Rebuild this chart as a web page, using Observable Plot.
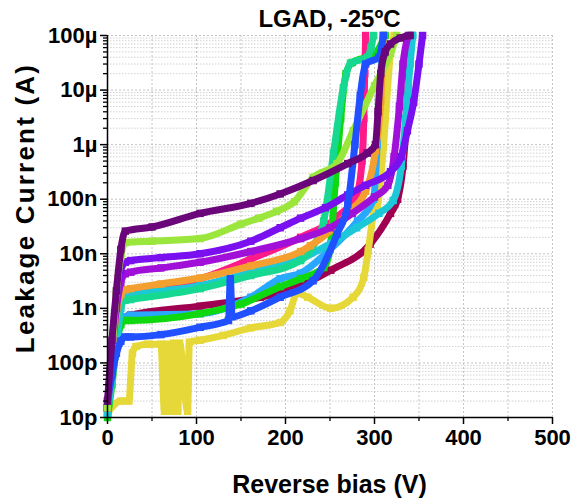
<!DOCTYPE html>
<html><head><meta charset="utf-8">
<script src="https://cdn.jsdelivr.net/npm/d3@7"></script>
<script src="https://cdn.jsdelivr.net/npm/@observablehq/plot@0.6"></script>
<style>
body{margin:0;background:#fff;font-family:"Liberation Sans",Arial,sans-serif;}
#wrap{position:relative;width:574px;height:502px;overflow:hidden;}
.t{position:absolute;font-weight:bold;font-size:24px;line-height:24px;white-space:nowrap;color:#000;}
</style></head><body><div id="wrap"></div>
<script>
// ---- data (Reverse bias V, leakage current A) ----
const seriesNames = ["crimson","yellow","pink","lightBlue","green","cyan","teal","orange","purple","violet","lime","blue","darkPurple"];
const seriesColors = ["#a00050","#e6d838","#ff1a8a","#28a8ff","#10d810","#1cc8d8","#16d890","#f4a030","#a010d8","#7a10f0","#9be63c","#2050ff","#6a067a"];

const V_crimson = [0,5,10,15,20,26,104,172,202,251,295,318,326,332,336,339,342];
const I_crimson = [1.5e-11,8e-11,3e-10,6e-10,7e-10,7.5e-10,1.1e-9,1.6e-9,2.1e-9,5e-9,1.5e-8,5.5e-8,1e-7,4e-7,3e-6,3e-5,1e-4];

const V_yellow = [0,15,24,28,32,45,60,64,66,72,74,79,81,90,92,104,130,161,194,205,213,225,251,276,288,293,299,303,310,318,322];
const I_yellow = [1.2e-11,2e-11,2e-11,1.5e-10,2e-10,2.2e-10,2.2e-10,1.3e-11,2.2e-10,1.3e-11,2.3e-10,1.3e-11,2.3e-10,1.3e-11,2.4e-10,2.6e-10,3.2e-10,4.4e-10,5.5e-10,9e-10,1.9e-9,1.6e-9,1e-9,1.6e-9,3.7e-9,1.15e-8,5.4e-8,7e-8,9e-7,4.7e-5,1e-4];

const V_pink = [0,5,10,15,20,26,104,161,217,260,280,286,288,289,290];
const I_pink = [1.5e-11,2e-10,1e-9,1.8e-9,2e-9,2.1e-9,3.5e-9,8e-9,2e-8,5e-8,1.2e-7,5e-7,3e-6,2e-5,1e-4];

const V_lightBlue = [0,5,10,15,20,26,104,161,194,217,250,281,299,303,306,310];
const I_lightBlue = [1.2e-11,6e-11,3e-10,6e-10,7e-10,7.5e-10,8e-10,1.6e-9,3.5e-9,4.4e-9,1.2e-8,4e-8,1e-7,1e-6,1e-5,1e-4];

const V_green = [0,5,10,15,20,26,104,150,194,217,243,250,256,262,268,275,300,312];
const I_green = [1e-11,4e-11,2e-10,5e-10,6e-10,6e-10,8e-10,1.2e-9,2.5e-9,3.5e-9,5.6e-9,1.2e-8,2e-7,3e-6,2e-5,3.2e-5,4.5e-5,1e-4];

const V_cyan = [0,5,10,15,20,26,104,161,217,251,280,305,321,330,335,340,343];
const I_cyan = [1.2e-11,5e-11,2e-10,1e-9,1.6e-9,1.7e-9,2.6e-9,4.5e-9,8e-9,1.55e-8,3e-8,5.5e-8,9.5e-8,4e-7,3e-6,3e-5,1e-4];

const V_teal = [0,5,10,15,20,26,104,161,217,230,243,254,265,273,292,296,299];
const I_teal = [1.5e-11,1e-10,6e-10,1.2e-9,1.4e-9,1.45e-9,2.3e-9,4e-9,7.5e-9,1.3e-8,4e-8,7e-7,1.1e-5,3.1e-5,4e-5,6e-5,1e-4];

const V_orange = [0,5,10,15,20,26,60,104,161,217,228,273,290,301,307,310];
const I_orange = [1.5e-11,1.5e-10,8e-10,1.8e-9,2.2e-9,2.3e-9,2.8e-9,3.6e-9,6e-9,1.1e-8,1.4e-8,6.2e-8,1.4e-7,7.8e-7,6.4e-6,1e-4];

const V_purple = [0,5,10,15,20,26,60,104,161,217,250,275,300,315,322,328,332,338];
const I_purple = [1.5e-11,1.5e-10,1e-9,3e-9,4.3e-9,4.6e-9,5.5e-9,7e-9,1.1e-8,1.9e-8,3e-8,5.5e-8,1.1e-7,1.8e-7,6e-7,5e-6,3e-5,1e-4];

const V_violet = [0,5,10,15,20,26,60,104,161,194,217,245,270,290,318,330,337,344,350,354];
const I_violet = [1.5e-11,2e-10,1.5e-9,5e-9,7e-9,7.5e-9,8.5e-9,1e-8,1.7e-8,3e-8,4.5e-8,7e-8,1.2e-7,1.8e-7,3.2e-7,6e-7,1.8e-6,6e-6,3e-5,1e-4];

const V_lime = [0,5,10,15,20,50,104,150,170,190,210,231,258,276,300,318,325];
const I_lime = [1.5e-11,1.5e-10,2e-9,9e-9,1.6e-8,1.7e-8,1.9e-8,3.5e-8,4.5e-8,6e-8,9e-8,2.5e-7,4.5e-7,1.8e-6,1.2e-5,4.7e-5,1e-4];

const V_blue = [0,5,10,15,20,26,60,104,136,138,140,161,194,231,258,270,278,284,290,305,310];
const I_blue = [2e-11,6e-11,1.5e-10,2.5e-10,3e-10,3e-10,3.3e-10,4.5e-10,6e-10,3.5e-9,7e-10,9e-10,1.6e-9,3.2e-9,2.3e-8,8e-8,1e-6,8e-6,3e-5,4e-5,1e-4];

const V_darkPurple = [0,5,10,15,20,50,104,161,194,231,270,292,301,304,307,312,318,329,340];
const I_darkPurple = [2e-11,2.6e-10,2.1e-9,1.2e-8,2.6e-8,3.1e-8,5.5e-8,8.4e-8,1.25e-7,2.2e-7,4.5e-7,7e-7,1e-6,4e-6,2e-5,5e-5,7e-5,9e-5,1e-4];

const seriesV = [V_crimson,V_yellow,V_pink,V_lightBlue,V_green,V_cyan,V_teal,V_orange,V_purple,V_violet,V_lime,V_blue,V_darkPurple];
const seriesI = [I_crimson,I_yellow,I_pink,I_lightBlue,I_green,I_cyan,I_teal,I_orange,I_purple,I_violet,I_lime,I_blue,I_darkPurple];

const xTicks = [0,100,200,300,400,500];
const xMinor = [50,150,250,350,450];
const xGrid = [50,100,150,200,250,300,350,400,450,500];
const yTicks = [1e-11,1e-10,1e-9,1e-8,1e-7,1e-6,1e-5,1e-4];
const yTickLabels = ["10p","100p","1n","10n","100n","1µ","10µ","100µ"];
const yMinor = [];
for (let d = 1e-11; d < 1e-4 * 0.99; d *= 10) for (let m = 2; m <= 9; m++) yMinor.push(m * d);

// ---- chart ----
const marks = [
  Plot.gridY(yMinor, {stroke:"#d2d2d2", strokeOpacity:1, strokeDasharray:"1.5,1.5"}),
  Plot.gridY(yTicks, {stroke:"#c4c4c4", strokeOpacity:1, strokeDasharray:"2,2"}),
  Plot.gridX(xGrid, {stroke:"#c4c4c4", strokeOpacity:1, strokeDasharray:"2,2"})
];
seriesNames.forEach((n, i) => {
  const rows = seriesV[i].map((v, j) => ({V: v, I: seriesI[i][j]}));
  marks.push(Plot.line(rows, {x:"V", y:"I", stroke: seriesColors[i], strokeWidth: 7, curve: "monotone-x"}));
  marks.push(Plot.dot(rows, {x:"V", y:"I", fill: seriesColors[i], symbol:"square", r: 4.2}));
});
marks.push(
  Plot.axisY(yMinor, {tickSize:4, strokeWidth:1.3, tickFormat: () => "", label: null}),
  Plot.axisY(yTicks, {tickSize:7, tickPadding:3, strokeWidth:1.5, tickFormat: d => yTickLabels[yTicks.indexOf(d)], fontSize: 22, fontWeight: "bold", label: null}),
  Plot.axisX(xMinor, {tickSize:4, strokeWidth:1.3, tickFormat: () => "", label: null}),
  Plot.axisX(xTicks, {tickSize:7, tickPadding:5, strokeWidth:1.5, fontSize: 22, fontWeight: "bold", label: null}),
  Plot.ruleX([0], {stroke:"#000", strokeWidth:1.5}),
  Plot.ruleY([1e-11], {stroke:"#000", strokeWidth:1.5})
);

const chart = Plot.plot({
  width: 574, height: 502,
  marginLeft: 107, marginRight: 22, marginTop: 35, marginBottom: 85,
  x: {domain: [0, 500], label: null},
  y: {type: "log", domain: [1e-11, 1e-4], label: null},
  style: {fontFamily: "'Liberation Sans', Arial, sans-serif", fontSize: "22px", fontWeight: "bold", color: "#000", background: "#fff"},
  marks
});
const wrap = document.getElementById("wrap");
wrap.appendChild(chart);

function addText(txt, css) {
  const d = document.createElement("div");
  d.className = "t"; d.textContent = txt; Object.assign(d.style, css); wrap.appendChild(d);
}
addText("LGAD, -25ºC", {left: "107px", width: "445px", textAlign: "center", top: "7px"});
addText("Reverse bias (V)", {left: "107px", width: "445px", textAlign: "center", top: "472px", fontSize: "25px"});
addText("Leakage Current (A)", {left: "25px", top: "208px", fontSize: "26px", letterSpacing: "2.2px", transform: "translate(-50%,-50%) rotate(-90deg)"});
</script></body></html>
